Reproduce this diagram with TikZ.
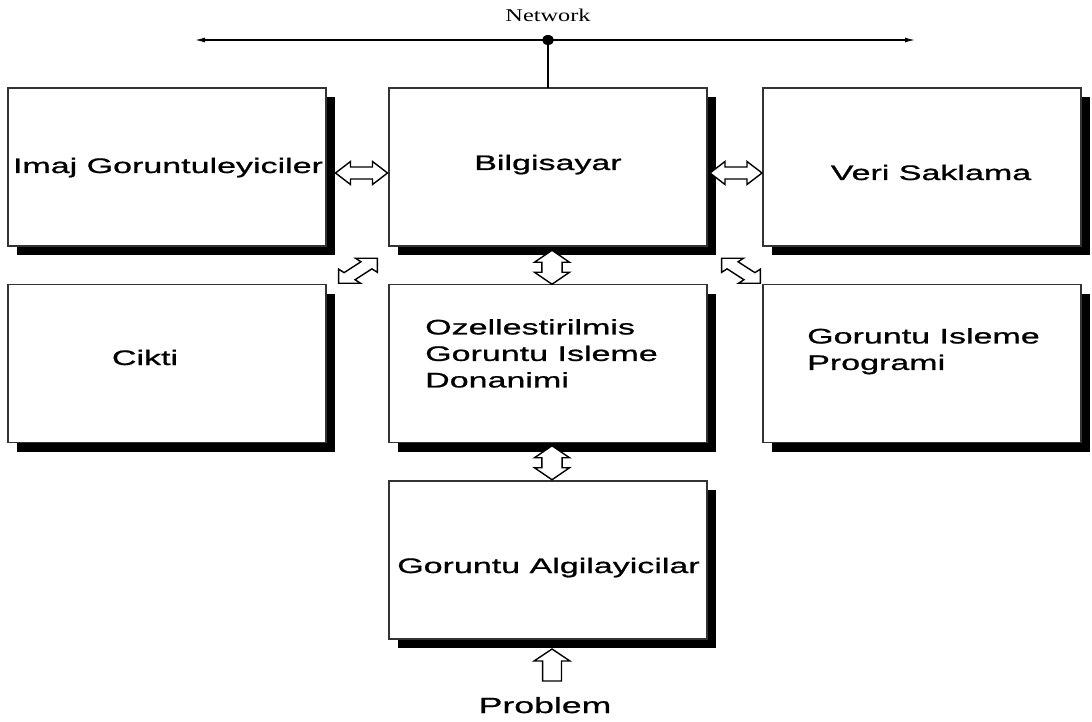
\documentclass[tikz,border=0pt]{standalone}
\usepackage{fontspec}
\usetikzlibrary{calc,shadows,arrows.meta}
\newfontfamily\boxfont[FakeStretch=1.62, FakeBold=0.9]{Liberation Sans}
\newfontfamily\netfont[FakeStretch=1.35]{Liberation Serif}

% block double arrow along the local x axis:
% #1 half length, #2 head length, #3 head half width, #4 shaft half width
\newcommand\dblarrowpath[4]{(-#1,0) -- (-#1+#2,#3) -- (-#1+#2,#4) -- (#1-#2,#4) -- (#1-#2,#3) -- (#1,0)
  -- (#1-#2,-#3) -- (#1-#2,-#4) -- (-#1+#2,-#4) -- (-#1+#2,-#3) -- cycle}

\tikzset{
  box/.style={draw=black!80, line width=1.6pt, fill=white, minimum width=318pt,
    minimum height=158pt, inner sep=0pt, outer sep=0pt,
    drop shadow={shadow xshift=9pt, shadow yshift=-9pt, fill=black, opacity=1}},
  lbl/.style={inner sep=0pt, font=\boxfont\fontsize{21}{26.5}\selectfont, align=left},
  netlbl/.style={inner sep=0pt, font=\netfont\fontsize{18}{20}\selectfont},
  blk/.style={draw=black, line width=1.4pt, fill=white, line join=miter},
  netline/.style={line width=1.3pt, {Latex[length=10pt,width=5pt]}-{Latex[length=10pt,width=5pt]}},
}

\begin{document}
\begin{tikzpicture}[x=1pt, y=-1pt]
\fill[white] (0,0) rectangle (1092,722);
\useasboundingbox (0,0) rectangle (1092,722);

% network bus
\node[netlbl] (net) at (548,15) {Network};
\coordinate (netL) at (195,40);
\coordinate (netR) at (915,40);
\coordinate (hub) at (548,40);
\draw[netline] (netL) -- (netR);

% boxes
\node[box] (img) at (167,167) {};
\node[box] (pc)  at (548,167) {};
\node[box] (vs)  at (922,167) {};
\node[box] (out) at (167,363.5) {};
\node[box] (oz)  at (548,363.5) {};
\node[box] (gip) at (922,363.5) {};
\node[box] (alg) at (548,560) {};

\draw[line width=1.3pt] (hub) -- (pc.north);
\fill (hub) ellipse (6 and 5);

% labels
\node[lbl, anchor=base] (timg) at (168,173) {Imaj Goruntuleyiciler};
\node[lbl, anchor=base] (tpc)  at (548,170) {Bilgisayar};
\node[lbl, anchor=base] (tvs)  at (931,180) {Veri Saklama};
\node[lbl, anchor=base] (tout) at (145,365) {Cikti};
\node[lbl, anchor=north west] (toz)  at (425,319) {Ozellestirilmis\\Goruntu Isleme\\Donanimi};
\node[lbl, anchor=north west] (tgip) at (807,328) {Goruntu Isleme\\Programi};
\node[lbl, anchor=base] (talg) at (548.5,573) {Goruntu Algilayicilar};
\node[lbl, anchor=base, font=\boxfont\fontsize{22}{26}\selectfont] (prob) at (545,713) {Problem};

% block arrows between the boxes
\begin{scope}[shift={($(img.east)!0.5!(pc.west)+(4,6)$)}, xscale=1.55]
  \draw[blk] \dblarrowpath{16.8}{9.7}{11.5}{6};
\end{scope}
\begin{scope}[shift={($(pc.east)!0.5!(vs.west)+(1,6)$)}, xscale=1.55]
  \draw[blk] \dblarrowpath{16.8}{9.7}{11.5}{6};
\end{scope}
\begin{scope}[shift={($(pc.south)!0.5!(oz.north)+(4,2)$)}, xscale=1.55, rotate=90]
  \draw[blk] \dblarrowpath{17}{12}{11.3}{6.5};
\end{scope}
\begin{scope}[shift={($(oz.south)!0.5!(alg.north)+(4,1)$)}, xscale=1.55, rotate=90]
  \draw[blk] \dblarrowpath{17}{12}{11.3}{6.5};
\end{scope}
\begin{scope}[shift={($(img.south east)!0.5!(oz.north west)+(0.5,5.5)$)}, xscale=1.55, rotate=45]
  \draw[blk] \dblarrowpath{17.7}{10}{10}{5};
\end{scope}
\begin{scope}[shift={($(pc.south east)!0.5!(gip.north west)+(6,5.5)$)}, xscale=1.55, rotate=-45]
  \draw[blk] \dblarrowpath{17.7}{10}{10}{5};
\end{scope}

% input arrow
\begin{scope}[shift={($(alg.south)+(4,10)$)}, xscale=1.55]
  \draw[blk] (0,0) -- (11.6,12) -- (6.1,12) -- (6.1,32) -- (-6.1,32) -- (-6.1,12) -- (-11.6,12) -- cycle;
\end{scope}
\end{tikzpicture}
\end{document}
